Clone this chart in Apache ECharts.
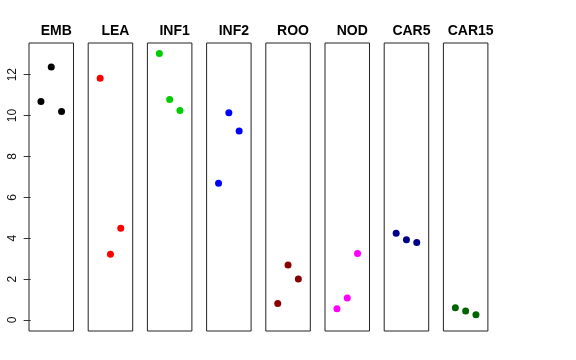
<!DOCTYPE html>
<html><head><meta charset="utf-8">
<script src="https://cdn.jsdelivr.net/npm/echarts@6/dist/echarts.min.js"></script>
<style>html,body{margin:0;padding:0;background:#fff}#c{width:576px;height:360px}</style>
</head><body><div id="c"></div>
<script>
const panels = ['EMB','LEA','INF1','INF2','ROO','NOD','CAR5','CAR15'];
const colors = ['#000000','#FF0000','#00CD00','#0000FF','#8B0000','#FF00FF','#00008B','#006400'];
const xPos = [1, 2, 3];
const EMB = [10.69, 12.37, 10.20];
const LEA = [11.82, 3.22, 4.49];
const INF1 = [13.04, 10.79, 10.25];
const INF2 = [6.69, 10.14, 9.24];
const ROO = [0.80, 2.69, 2.01];
const NOD = [0.55, 1.08, 3.25];
const CAR5 = [4.24, 3.92, 3.79];
const CAR15 = [0.60, 0.44, 0.26];
const yTicks = [0, 2, 4, 6, 8, 10, 12];
const values = [EMB, LEA, INF1, INF2, ROO, NOD, CAR5, CAR15];

const lefts = [29, 88.2, 147.4, 206.6, 265.8, 325, 384.2, 443.4];
const pw = 44.5, gTop = 43, ph = 288;
const grid = [], xAxis = [], yAxis = [], series = [], title = [];
panels.forEach((p, i) => {
  grid.push({left: lefts[i], top: gTop, width: pw, height: ph, show: true, borderColor: '#222', borderWidth: 1, backgroundColor: 'transparent'});
  xAxis.push({gridIndex: i, type: 'value', min: -0.16, max: 4.16, show: false});
  yAxis.push({gridIndex: i, type: 'value', min: -0.54, max: 13.55, show: i === 0,
    splitLine: {show: false},
    axisLine: {show: false},
    axisTick: {show: i === 0, length: 7, lineStyle: {color: '#333'}, customValues: yTicks},
    axisLabel: {show: i === 0, rotate: 90, margin: 10, fontSize: 12, color: '#111', fontFamily: 'Liberation Sans, Arial', customValues: yTicks}
  });
  series.push({type: 'scatter', xAxisIndex: i, yAxisIndex: i, symbolSize: 7,
    itemStyle: {color: colors[i], opacity: 1}, data: values[i].map((v, j) => [xPos[j], v])});
  title.push({text: p, left: lefts[i] + pw / 2, top: 19, textAlign: 'center',
    textStyle: {fontSize: 14, fontWeight: 'bold', color: '#000', fontFamily: 'Liberation Sans, Arial'}});
});
const chart = echarts.init(document.getElementById('c'), null, {renderer: 'canvas'});
chart.setOption({animation: false, title, grid, xAxis, yAxis, series});
</script></body></html>
